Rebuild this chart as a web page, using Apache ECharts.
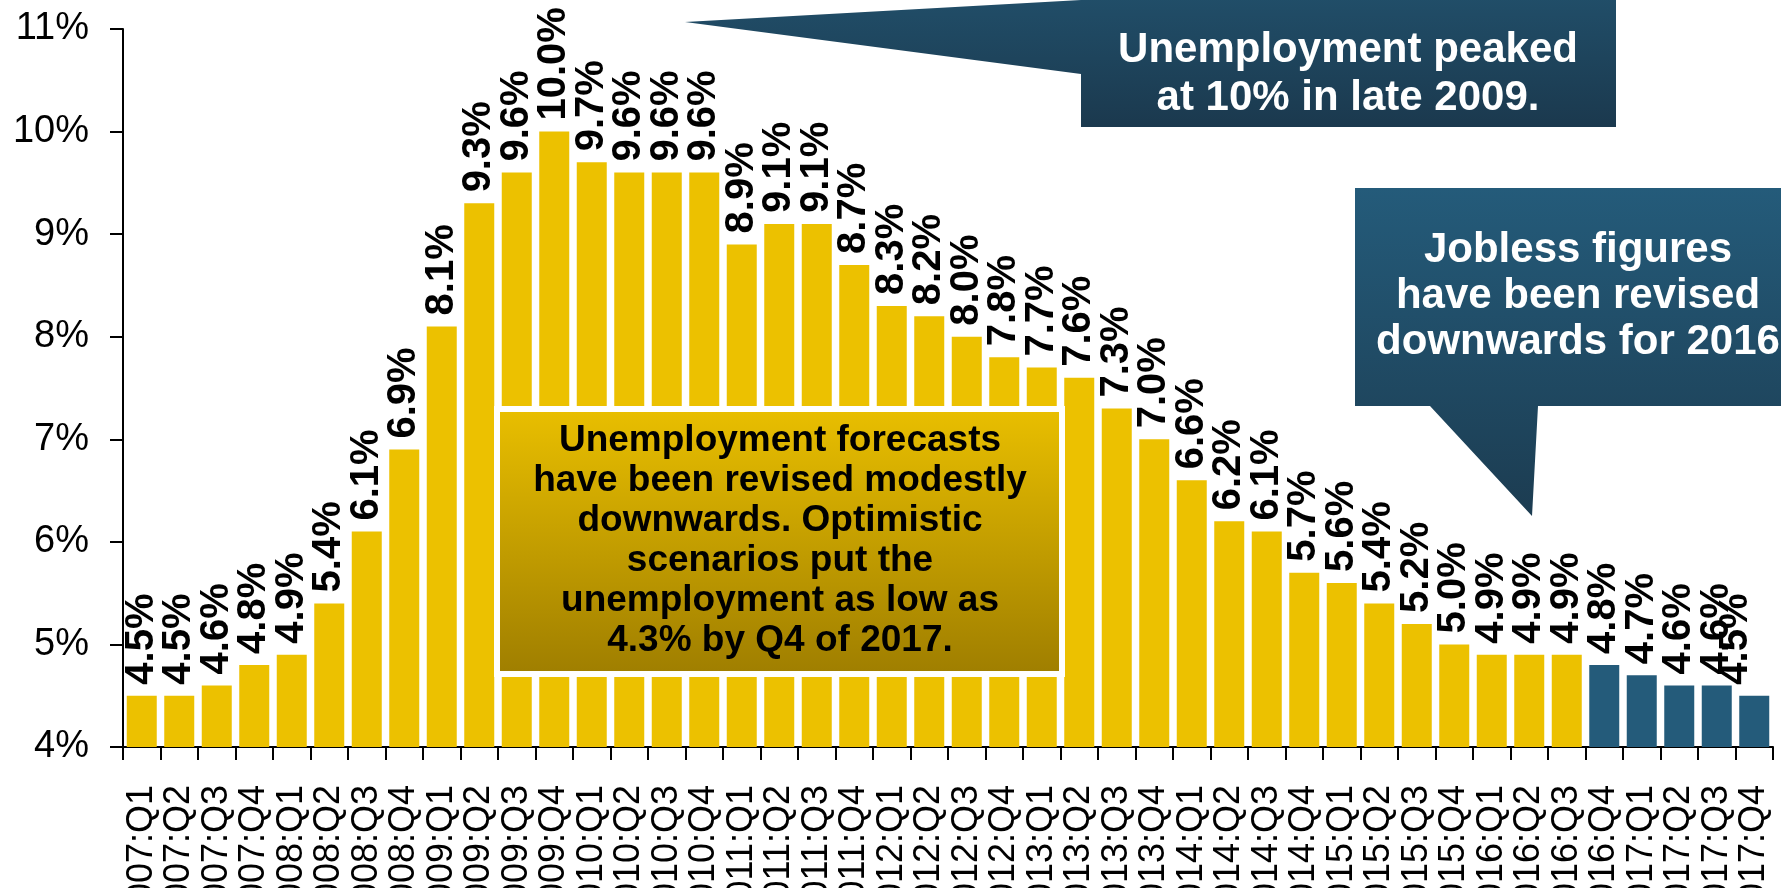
<!DOCTYPE html>
<html>
<head>
<meta charset="utf-8">
<script src="https://cdn.jsdelivr.net/npm/echarts@6/dist/echarts.min.js"></script>
<style>
  html, body { margin: 0; padding: 0; background: #fff; }
  #chart { width: 1781px; height: 888px; }
</style>
</head>
<body>
<div id="chart"></div>
<script>
// ---- data ----
const categories = [
  '2007:Q1','2007:Q2','2007:Q3','2007:Q4',
  '2008:Q1','2008:Q2','2008:Q3','2008:Q4',
  '2009:Q1','2009:Q2','2009:Q3','2009:Q4',
  '2010:Q1','2010:Q2','2010:Q3','2010:Q4',
  '2011:Q1','2011:Q2','2011:Q3','2011:Q4',
  '2012:Q1','2012:Q2','2012:Q3','2012:Q4',
  '2013:Q1','2013:Q2','2013:Q3','2013:Q4',
  '2014:Q1','2014:Q2','2014:Q3','2014:Q4',
  '2015:Q1','2015:Q2','2015:Q3','2015:Q4',
  '2016:Q1','2016:Q2','2016:Q3','2016:Q4',
  '2017:Q1','2017:Q2','2017:Q3','2017:Q4'
];
// historical (yellow) rates, 2007:Q1 – 2016:Q3
const historicalRates = [
  4.5, 4.5, 4.6, 4.8,
  4.9, 5.4, 6.1, 6.9,
  8.1, 9.3, 9.6, 10.0,
  9.7, 9.6, 9.6, 9.6,
  8.9, 9.1, 9.1, 8.7,
  8.3, 8.2, 8.0, 7.8,
  7.7, 7.6, 7.3, 7.0,
  6.6, 6.2, 6.1, 5.7,
  5.6, 5.4, 5.2, 5.0,
  4.9, 4.9, 4.9
];
// revised forecast (blue) rates, 2016:Q4 – 2017:Q4
const forecastRates = [4.8, 4.7, 4.6, 4.6, 4.5];
const yTicks = [4, 5, 6, 7, 8, 9, 10, 11];

const calloutPeak = 'Unemployment peaked\nat 10% in late 2009.';
const calloutJobless = 'Jobless figures\nhave been revised\ndownwards for 2016';
const calloutForecast = 'Unemployment forecasts\nhave been revised modestly\ndownwards. Optimistic\nscenarios put the\nunemployment as low as\n4.3% by Q4 of 2017.';

// ---- chart ----
const FONT = "'Liberation Sans', Arial, sans-serif";
const YELLOW = '#ECC100';
const BLUE = '#245B7A';

const allRates = historicalRates.concat(forecastRates);
const barData = allRates.map((v, i) => {
  const item = {
    value: v,
    itemStyle: { color: i < historicalRates.length ? YELLOW : BLUE }
  };
  if (i === allRates.length - 1) {
    // last label is nudged left (kept inside the frame) as in the source
    item.label = { offset: [0, -18] };
  }
  return item;
});

const chart = echarts.init(document.getElementById('chart'), null, { renderer: 'canvas' });

const dark = (c1, c2) => new echarts.graphic.LinearGradient(0, 0, 0, 1, [
  { offset: 0, color: c1 }, { offset: 1, color: c2 }
]);

chart.setOption({
  animation: false,
  backgroundColor: '#ffffff',
  grid: { left: 123, right: 8, top: 29, bottom: 141, containLabel: false, outerBoundsMode: 'none' },
  xAxis: {
    type: 'category',
    data: categories,
    boundaryGap: true,
    axisLine: { show: true, lineStyle: { color: '#000', width: 2 } },
    axisTick: { show: true, length: 13, inside: false, alignWithLabel: false, interval: 0, lineStyle: { color: '#000', width: 2 } },
    axisLabel: {
      interval: 0, rotate: 90, margin: 38, hideOverlap: false,
      fontSize: 36, color: '#000', fontFamily: FONT
    }
  },
  yAxis: {
    type: 'value',
    min: yTicks[0],
    max: yTicks[yTicks.length - 1],
    interval: 1,
    axisLine: { show: true, lineStyle: { color: '#000', width: 2 } },
    axisTick: { show: true, length: 13, inside: false, lineStyle: { color: '#000', width: 2 } },
    splitLine: { show: false },
    axisLabel: {
      formatter: '{value}%', margin: 34,
      fontSize: 38, color: '#000', fontFamily: FONT
    }
  },
  series: [{
    type: 'bar',
    data: barData,
    barCategoryGap: '20%',
    z: 2,
    label: {
      show: true,
      position: 'top',
      rotate: 90,
      align: 'left',
      verticalAlign: 'middle',
      distance: 11,
      fontSize: 40,
      fontWeight: 'bold',
      color: '#000',
      fontFamily: FONT,
      formatter: p => p.value.toFixed(1) + '%'
    }
  }],
  graphic: [
    // forecast box (white frame + gradient fill)
    { type: 'rect', z: 100, shape: { x: 494, y: 406, width: 571, height: 271 }, style: { fill: '#ffffff' } },
    { type: 'rect', z: 101, shape: { x: 500, y: 412, width: 559, height: 259 }, style: { fill: dark('#E8BE00', '#A07F00') } },
    { type: 'text', z: 102, x: 780, y: 541,
      style: { text: calloutForecast, align: 'center', verticalAlign: 'middle',
        fontSize: 37, fontWeight: 'bold', fontFamily: FONT, lineHeight: 40, fill: '#000' } },
    // peak callout (top)
    { type: 'polygon', z: 100,
      shape: { points: [[685, 22], [1081, 0], [1081, -10], [1616, -10], [1616, 127], [1081, 127], [1081, 74]] },
      style: { fill: dark('#214F6A', '#1B394E') } },
    { type: 'text', z: 102, x: 1348, y: 74,
      style: { text: calloutPeak, align: 'center', verticalAlign: 'middle',
        fontSize: 42, fontWeight: 'bold', fontFamily: FONT, lineHeight: 48, fill: '#fff' } },
    // jobless callout (right)
    { type: 'polygon', z: 100,
      shape: { points: [[1355, 188], [1800, 188], [1800, 406], [1538, 406], [1532, 516], [1430, 406], [1355, 406]] },
      style: { fill: dark('#245B7A', '#1C3C51') } },
    { type: 'text', z: 102, x: 1578, y: 296,
      style: { text: calloutJobless, align: 'center', verticalAlign: 'middle',
        fontSize: 42, fontWeight: 'bold', fontFamily: FONT, lineHeight: 46, fill: '#fff' } }
  ]
});
</script>
</body>
</html>
